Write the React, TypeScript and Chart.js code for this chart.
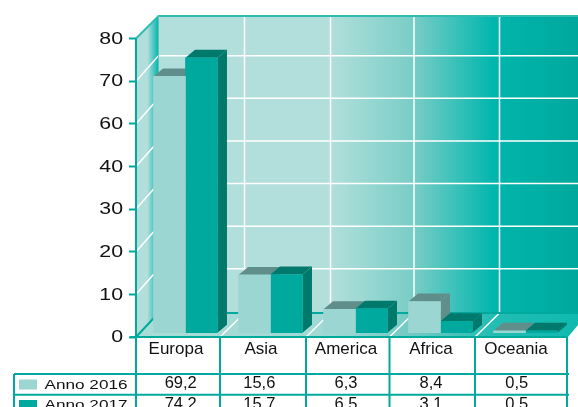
import React, { useEffect, useRef } from "react";
import { Chart, registerables } from "chart.js";

Chart.register(...registerables);

const categories = ["Europa", "Asia", "America", "Africa", "Oceania"];
const yTickLabels = ["80", "70", "60", "40", "30", "20", "10", "0"];
const anno2016 = [69.2, 15.6, 6.3, 8.4, 0.5];
const anno2017 = [74.2, 15.7, 6.5, 3.1, 0.5];
const seriesNames = ["Anno 2016", "Anno 2017"];

const TEAL = "#00a99d";
const INK = "#111111";
const fmt = (v: number) => v.toFixed(1).replace(".", ",");

const shape3d = {
  id: "shape3d",
  afterLayout(chart: any) {
    const y = chart.scales.y;
    if (y.__wrapped) return;
    y.__wrapped = true;
    const orig = y.drawLabels;
    y.drawLabels = function (area: any) {
      const ctx = chart.ctx;
      const ax = 123;
      ctx.save();
      ctx.translate(ax, 0.8);
      ctx.scale(1.33, 1);
      ctx.translate(-ax, 0);
      orig.call(this, area);
      ctx.restore();
    };
  },
  beforeDraw(chart: any) {
    const { ctx, chartArea: a, scales } = chart;
    const y = scales.y;
    const L = a.left, B = a.bottom, T = a.top;
    const W = 578, dx = 22.5, backBottom = 313, backTop = 16;

    const wall = ctx.createLinearGradient(L + dx, 0, W, 0);
    wall.addColorStop(0, "#b2dfdb");
    wall.addColorStop(0.41, "#b2dfdb");
    wall.addColorStop(0.61, "#78cdc6");
    wall.addColorStop(0.8, "#00b6ad");
    wall.addColorStop(1, "#00a89c");
    const floor = ctx.createLinearGradient(L + dx, 0, W, 0);
    floor.addColorStop(0, "#a8dcd7");
    floor.addColorStop(0.41, "#a0d9d4");
    floor.addColorStop(0.61, "#6fcac3");
    floor.addColorStop(0.8, "#22bdb3");
    floor.addColorStop(1, "#0fb9ae");

    ctx.save();
    // back wall
    ctx.fillStyle = wall;
    ctx.fillRect(L + dx, backTop, W - L - dx, backBottom - backTop);
    // floor
    ctx.beginPath();
    ctx.moveTo(L, B);
    ctx.lineTo(L + dx, backBottom);
    ctx.lineTo(W, backBottom);
    ctx.lineTo(W, 325);
    ctx.lineTo(568, B);
    ctx.closePath();
    ctx.fillStyle = floor;
    ctx.fill();
    // side wall
    const side = ctx.createLinearGradient(L, 0, L + dx, 0);
    side.addColorStop(0, "#b2dfdb");
    side.addColorStop(0.5, "#b2dfdb");
    side.addColorStop(1, "#00b5ad");
    ctx.beginPath();
    ctx.moveTo(L, T);
    ctx.lineTo(L + dx, backTop);
    ctx.lineTo(L + dx, backBottom);
    ctx.lineTo(L, B);
    ctx.closePath();
    ctx.fillStyle = side;
    ctx.fill();

    // white grid on walls
    ctx.strokeStyle = "#ffffff";
    ctx.lineWidth = 1.5;
    y.ticks.forEach((_: any, i: number) => {
      if (i === 0 || i === y.ticks.length - 1) return;
      const py = y.getPixelForTick(i);
      ctx.beginPath();
      ctx.moveTo(L, py);
      ctx.lineTo(L + dx, py - 25.5);
      ctx.lineTo(W, py - 25.5);
      ctx.stroke();
    });
    [220, 306, 389.5, 475].forEach((px) => {
      ctx.beginPath();
      ctx.moveTo(px, B);
      ctx.lineTo(px + 24.5, backBottom);
      ctx.lineTo(px + 24.5, backTop);
      ctx.stroke();
    });

    // teal edges
    ctx.strokeStyle = "#2fbcb2";
    ctx.lineWidth = 2;
    ctx.beginPath();
    ctx.moveTo(L, T);
    ctx.lineTo(L + dx, backTop);
    ctx.lineTo(W, backTop);
    ctx.stroke();
    ctx.strokeStyle = TEAL;
    ctx.beginPath();
    ctx.moveTo(L, B);
    ctx.lineTo(L + dx, backBottom);
    ctx.lineTo(W, backBottom);
    ctx.stroke();
    ctx.beginPath();
    ctx.moveTo(L, T);
    ctx.lineTo(L, B);
    ctx.stroke();
    ctx.lineWidth = 1;
    ctx.strokeStyle = "#5cc6be";
    ctx.beginPath();
    ctx.moveTo(L + dx, backTop);
    ctx.lineTo(L + dx, backBottom);
    ctx.stroke();
    ctx.restore();
  },
  beforeDatasetsDraw(chart: any) {
    const { ctx } = chart;
    const ex = 9.5, ey = 8;
    const tones = [
      { top: "#608f8b", side: "#608f8b" },
      { top: "#00796d", side: "#00796d" },
    ];
    ctx.save();
    categories.forEach((_, i) => {
      [0, 1].forEach((d) => {
        const bar = chart.getDatasetMeta(d).data[i];
        const { x, y, base, width } = bar.getProps(["x", "y", "base", "width"]);
        const x0 = x - width / 2, x1 = x + width / 2;
        ctx.fillStyle = tones[d].side;
        ctx.beginPath();
        ctx.moveTo(x1, y);
        ctx.lineTo(x1 + ex, y - ey);
        ctx.lineTo(x1 + ex, base - ey);
        ctx.lineTo(x1, base);
        ctx.closePath();
        ctx.fill();
        ctx.fillStyle = tones[d].top;
        ctx.beginPath();
        ctx.moveTo(x0, y);
        ctx.lineTo(x0 + ex, y - ey);
        ctx.lineTo(x1 + ex, y - ey);
        ctx.lineTo(x1, y);
        ctx.closePath();
        ctx.fill();
      });
    });
    ctx.restore();
  },
  afterDraw(chart: any) {
    const { ctx, chartArea: a, data } = chart;
    const columns = [136, 220, 306, 389.5, 475, 567];
    const valueCentres = [180.7, 259.3, 346, 431, 516.7];
    const rowA = 374, rowB = 394.7, tableLeft = 14, tableRight = 569, H = 407;
    ctx.save();
    ctx.strokeStyle = TEAL;
    ctx.lineWidth = 2;
    columns.forEach((px) => {
      ctx.beginPath();
      ctx.moveTo(px, a.bottom);
      ctx.lineTo(px, H);
      ctx.stroke();
    });
    [rowA, rowB].forEach((py) => {
      ctx.beginPath();
      ctx.moveTo(tableLeft, py);
      ctx.lineTo(tableRight, py);
      ctx.stroke();
    });
    ctx.beginPath();
    ctx.moveTo(tableLeft, rowA);
    ctx.lineTo(tableLeft, H);
    ctx.stroke();
    ctx.beginPath();
    ctx.moveTo(a.left - 6, a.bottom);
    ctx.lineTo(columns[5], a.bottom);
    ctx.stroke();

    ctx.textBaseline = "middle";
    data.datasets.forEach((ds: any, d: number) => {
      const cy = d === 0 ? 384 : 404.5;
      ctx.fillStyle = ds.backgroundColor;
      ctx.fillRect(19, cy - 4.5, 18, 10);
      ctx.fillStyle = INK;
      ctx.textAlign = "left";
      ctx.save();
      ctx.translate(44.5, cy + 1);
      ctx.scale(1.32, 1);
      ctx.font = "13px 'Liberation Sans'";
      ctx.fillText(ds.label, 0, 0);
      ctx.restore();
      ctx.font = "16.5px 'Liberation Sans'";
      ctx.textAlign = "center";
      ds.data.forEach((pt: any, i: number) => {
        ctx.fillText(fmt(pt.y), valueCentres[i], cy - 0.5);
      });
    });
    ctx.restore();
  },
};

export default function App() {
  const ref = useRef<HTMLCanvasElement>(null);
  useEffect(() => {
    const points = (vals: number[]) => vals.map((v, i) => ({ x: i, y: v }));
    const chart = new Chart(ref.current!, {
      type: "bar",
      data: {
        datasets: [
          { label: seriesNames[0], data: points(anno2016), backgroundColor: "#9cd6d2", yAxisID: "yBars", barThickness: 32 },
          { label: seriesNames[1], data: points(anno2017), backgroundColor: "#00a99d", yAxisID: "yBars", barThickness: 32 },
        ],
      } as any,
      options: {
        responsive: false,
        animation: false,
        layout: { padding: { top: 38.5, right: 11, left: 0, bottom: 0 } },
        plugins: { legend: { display: false }, tooltip: { enabled: false } },
        scales: {
          x: {
            type: "linear",
            min: -0.582,
            max: 4.488,
            offset: false,
            afterBuildTicks: (s: any) => {
              s.ticks = categories.map((_, i) => ({ value: i }));
            },
            afterFit: (s: any) => {
              s.height = 70;
            },
            grid: { display: false, offset: false, drawTicks: false },
            border: { display: false },
            ticks: {
              autoSkip: false,
              maxRotation: 0,
              padding: 2,
              labelOffset: -9.5,
              color: INK,
              font: { family: "'Liberation Sans'", size: 17 },
              callback: (v: any) => categories[v],
            },
          },
          y: {
            type: "category",
            labels: yTickLabels,
            offset: false,
            afterFit: (s: any) => {
              s.width = 136;
            },
            grid: { drawOnChartArea: false, tickColor: TEAL, tickLength: 7, tickWidth: 2 },
            border: { display: false },
            ticks: {
              autoSkip: false,
              padding: 6,
              color: INK,
              font: { family: "'Liberation Sans'", size: 16 },
            },
          },
          yBars: { type: "linear", display: false, min: -1.16, max: 79.43 },
        },
      } as any,
      plugins: [shape3d],
    } as any);
    return () => chart.destroy();
  }, []);
  return (
    <div style={{ position: "absolute", left: 0, top: 0, width: 578, height: 407, background: "#fff" }}>
      <canvas ref={ref} width={578} height={407} style={{ display: "block" }} />
    </div>
  );
}
